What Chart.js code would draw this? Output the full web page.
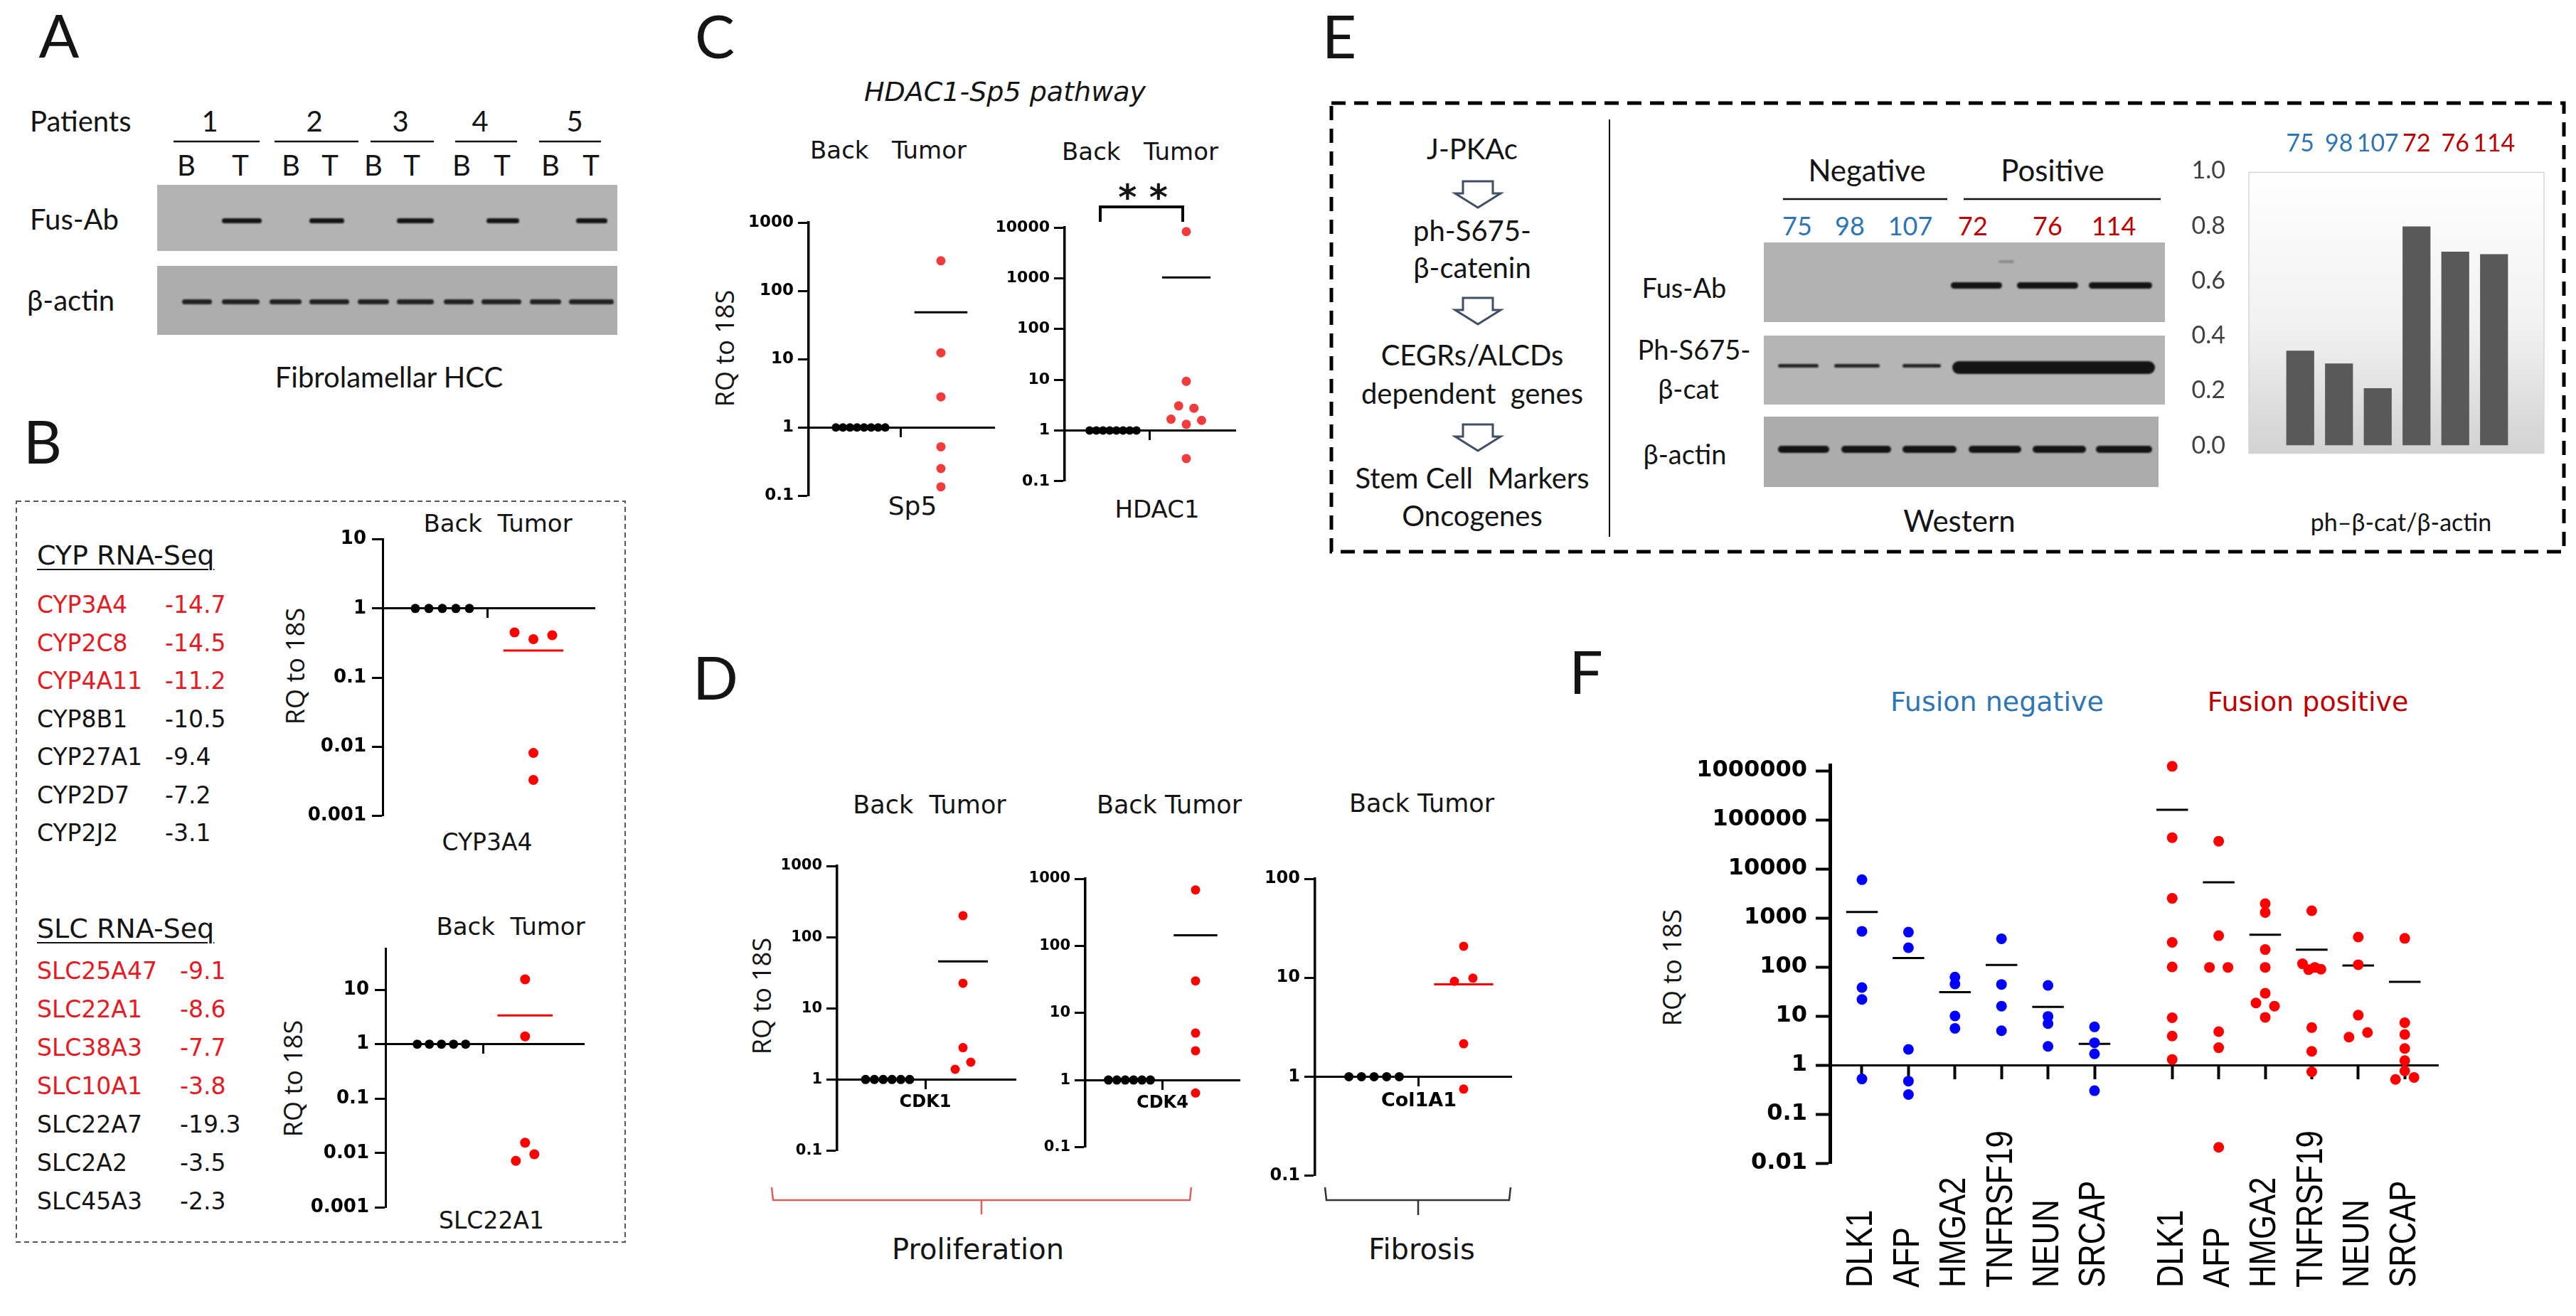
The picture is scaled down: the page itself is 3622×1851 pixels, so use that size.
<!DOCTYPE html>
<html><head><meta charset="utf-8">
<script src="https://cdn.jsdelivr.net/npm/chart.js"></script>
<style>
html,body{margin:0;padding:0;background:#fff;}
body{width:3622px;height:1851px;position:relative;overflow:hidden;}
.t{position:absolute;white-space:pre;line-height:1;}
canvas{position:absolute;}
.blot{position:absolute;}
.band{position:absolute;background:#141414;filter:blur(1.3px);}
</style></head><body>
<svg id="ov" width="3622" height="1851" style="position:absolute;left:0;top:0"></svg>
<script>
// ================= DATA =================
// Panel B: RNA-Seq fold changes
const cypGenes = ['CYP3A4','CYP2C8','CYP4A11','CYP8B1','CYP27A1','CYP2D7','CYP2J2'];
const cypFold  = [-14.7,-14.5,-11.2,-10.5,-9.4,-7.2,-3.1];
const cypRedCount = 3;
const slcGenes = ['SLC25A47','SLC22A1','SLC38A3','SLC10A1','SLC22A7','SLC2A2','SLC45A3'];
const slcFold  = [-9.1,-8.6,-7.7,-3.8,-19.3,-3.5,-2.3];
const slcRedCount = 4;

// Panel B dot plots (RQ to 18S)
const cyp3a4Back  = [1,1,1,1,1];
const cyp3a4Tumor = [0.45,0.36,0.41,0.0081,0.0033];
const slc22a1Back  = [1,1,1,1,1];
const slc22a1Tumor = [15.5,1.39,0.0072,0.0155,0.0095];
const ticksB = [0.001,0.01,0.1,1,10];

// Panel C
const sp5Back  = [1,1,1,1,1,1,1,1];
const sp5Tumor = [275,12.4,2.8,0.52,0.25,0.135];
const hdac1Back  = [1,1,1,1,1,1,1,1];
const hdac1Tumor = [8300,9.3,1.67,3.06,1.32,2.74,1.58,0.28];
const ticksSp5 = [0.1,1,10,100,1000];
const ticksHdac1 = [0.1,1,10,100,1000,10000];

// Panel D
const cdk1Back  = [1,1,1,1,1,1];
const cdk1Tumor = [200,22.5,2.8,1.39,1.75];
const cdk4Back  = [1,1,1,1,1,1];
const cdk4Tumor = [682,30,5.0,2.73,0.64];
const col1a1Back  = [1,1,1,1,1];
const col1a1Tumor = [20.8,9.2,9.9,2.15,0.75];
const ticksCdk = [0.1,1,10,100,1000];
const ticksCol = [0.1,1,10,100];

// Panel E: ph-beta-cat / beta-actin
const eLanes = ['75','98','107','72','76','114'];
const eLaneGroup = ['neg','neg','neg','pos','pos','pos'];
const eRatio = [0.345,0.299,0.209,0.798,0.706,0.697];
const ticksE = [0,0.2,0.4,0.6,0.8,1.0];

// Panel F
const fGenes = ['DLK1','AFP','HMGA2','TNFRSF19','NEUN','SRCAP'];
const fNegDLK1 = [6000,533,38,21.7,0.52];
const fNegAFP = [512,246,2.08,0.47,0.25];
const fNegHMGA2 = [62,45,10,5.6];
const fNegTNFRSF19 = [375,44,15.9,5.0];
const fNegNEUN = [42,9.8,7.0,2.4];
const fNegSRCAP = [6.0,2.85,1.69,0.30];
const fPosDLK1 = [1230000,43300,2500,316,100,9.2,3.9,1.3];
const fPosAFP = [36600,433,98,98,4.8,2.26,0.021];
const fPosHMGA2 = [1950,1290,226,98,29,18.4,15.9,9.4];
const fPosTNFRSF19 = [1397,116,88,98,90,5.8,1.9,0.73];
const fPosNEUN = [406,111,10.4,3.7,4.6];
const fPosSRCAP = [382,7.3,4.2,2.17,1.23,0.76,0.51,0.56];
const ticksF = [0.01,0.1,1,10,100,1000,10000,100000,1000000];

// ================= HELPERS =================
const DV = "'DejaVu Sans'";
const LATO = "Lato";
const OPEN = "'Open Sans'";
const TXT = '#141414';
const RED = '#ff0000';
const BLUE = '#0000ff';
const C_RED = '#f23c3c';
const LIST_RED = '#e8191f';
const NEG_TXT = '#2e75b6';
const POS_TXT = '#c00000';

function T(s, x, y, o = {}) {
  const d = document.createElement('div');
  d.className = 't';
  d.textContent = s;
  const st = d.style;
  st.left = x + 'px'; st.top = y + 'px';
  st.fontFamily = o.f || LATO;
  st.fontSize = (o.s || 40) + 'px';
  st.color = o.c || TXT;
  if (o.w) st.fontWeight = o.w;
  if (o.i) st.fontStyle = 'italic';
  if (o.u) { st.textDecoration = 'underline'; st.textDecorationThickness = '2px'; st.textUnderlineOffset = '6px'; }
  if (o.ls) st.letterSpacing = o.ls + 'px';
  const tx = o.a === 'l' ? '0' : '-50%';
  st.transform = `translate(${tx},-50%)` + (o.r ? ' rotate(-90deg)' : '');
  document.body.appendChild(d);
}
function blot(x1, y1, x2, y2, bg) {
  const d = document.createElement('div');
  d.className = 'blot';
  Object.assign(d.style, {left: x1 + 'px', top: y1 + 'px', width: (x2 - x1) + 'px', height: (y2 - y1) + 'px', background: bg});
  document.body.appendChild(d);
}
function band(x1, x2, yc, h, op = 1) {
  const d = document.createElement('div');
  d.className = 'band';
  Object.assign(d.style, {left: x1 + 'px', top: (yc - h / 2) + 'px', width: (x2 - x1) + 'px', height: h + 'px', borderRadius: (h / 2) + 'px', opacity: op});
  document.body.appendChild(d);
}
const mean = a => a.reduce((s, v) => s + v, 0) / a.length;
function logLabel(v) {
  const p = Math.round(Math.log10(v));
  return p >= 0 ? String(Math.pow(10, p)) : Math.pow(10, p).toFixed(-p);
}

// horizontal spreading of overlapping dots (computed from the chart's own scales)
function swarm(chart) {
  const xs = chart.scales.x, ys = chart.scales.y;
  const ppu = xs.getPixelForValue(1) - xs.getPixelForValue(0);
  chart.data.datasets.forEach(ds => {
    if (!ds.swarm) return;
    const {thresh, step, span} = ds.swarm;
    const py = i => ys.getPixelForValue(ds.data[i].y);
    const idx = ds.data.map((p, i) => i).sort((a, b) => py(a) - py(b));
    const clusters = [];
    let cur = [idx[0]];
    for (let k = 1; k < idx.length; k++) {
      if (py(idx[k]) - py(idx[k - 1]) < thresh) cur.push(idx[k]);
      else { clusters.push(cur); cur = [idx[k]]; }
    }
    clusters.push(cur);
    clusters.forEach(cl => {
      cl.sort((a, b) => a - b);
      const n = cl.length;
      const st = n > 1 ? Math.min(step, span / (n - 1)) : 0;
      cl.forEach((i, k) => { ds.data[i].x = ds.data[i].cx + (k - (n - 1) / 2) * st / ppu; });
    });
  });
  chart.update('none');
}

function dotPlot(o) {
  const padTop = 22, padBot = o.padBot || 16, padRight = 12;
  const left = o.axisX - o.wy, top = o.topPx - padTop;
  const w = Math.round(o.right - left + padRight), h = Math.round(o.botPx - o.topPx + padTop + padBot);
  const cv = document.createElement('canvas');
  cv.width = w; cv.height = h;
  Object.assign(cv.style, {left: left + 'px', top: top + 'px', width: w + 'px', height: h + 'px'});
  document.body.appendChild(cv);
  const datasets = o.groups.map(g => ({
    data: g.values.map(v => ({x: g.cx, y: v, cx: g.cx})),
    backgroundColor: g.color, borderColor: g.color, borderWidth: 0,
    pointRadius: g.r, pointHoverRadius: g.r, clip: false, swarm: g.swarm
  }));
  o.means.forEach(m => {
    const mv = mean(m.values);
    datasets.push({data: [{x: m.cx - m.half, y: mv}, {x: m.cx + m.half, y: mv}],
      showLine: true, borderColor: m.color, borderWidth: m.lw || 3, pointRadius: 0, clip: false, fill: false});
  });
  const chart = new Chart(cv, {
    type: 'scatter',
    data: {datasets},
    options: {
      responsive: false, animation: false, devicePixelRatio: 1, events: [],
      layout: {padding: {top: padTop, bottom: padBot, left: 0, right: padRight}},
      plugins: {legend: {display: false}, tooltip: {enabled: false}, title: {display: false}},
      scales: {
        x: {
          type: 'linear', position: {y: 1}, min: o.xMin, max: o.xMax,
          afterBuildTicks: s => { s.ticks = o.xTicks.map(v => ({value: v})); },
          ticks: {callback: (v, i) => (o.xLabels ? o.xLabels[i] : ''), autoSkip: false, maxRotation: 0,
                  font: {family: 'DejaVu Sans', weight: 'bold', size: o.xFont || 24}, color: '#000', padding: o.xPad || 6},
          grid: {drawOnChartArea: false, drawTicks: true, tickLength: o.xTickLen || 12, tickWidth: o.xTickW || 3, tickColor: '#000'},
          border: {display: true, color: '#000', width: o.xBorder || 3}
        },
        y: {
          type: 'logarithmic', position: 'left', min: o.yMin, max: o.yMax,
          afterBuildTicks: s => { s.ticks = o.yTicks.map(v => ({value: v})); },
          afterFit: s => { s.width = o.wy; },
          ticks: {callback: v => logLabel(v), autoSkip: false,
                  font: {family: 'DejaVu Sans', weight: 'bold', size: o.tickSize}, color: '#000', padding: o.yPad || 6},
          grid: {drawOnChartArea: false, drawTicks: true, tickLength: o.yTickLen || 15, tickWidth: o.yTickW || 3, tickColor: '#000'},
          border: {display: true, color: '#000', width: o.yBorder || 3}
        }
      }
    },
    plugins: o.plugins || []
  });
  swarm(chart);
  return chart;
}

function pairPlot(o) {
  return dotPlot(Object.assign({
    xTicks: [0.5],
    groups: [
      {values: o.back, cx: 0, color: '#000', r: o.rB, swarm: {thresh: 3, step: o.tieStep, span: Infinity}},
      {values: o.tumor, cx: 1, color: o.tumorColor, r: o.rT, swarm: {thresh: o.thresh, step: o.step, span: o.span}}
    ],
    means: [{values: o.tumor, cx: 1, half: 0.33, color: o.meanColor}]
  }, o));
}

// ================= PANEL LETTERS =================
T('A', 83, 49, {s: 84}); T('B', 60, 620, {s: 84}); T('C', 1005, 50, {s: 84});
T('D', 1006, 952, {s: 84}); T('E', 1883, 50, {s: 84}); T('F', 2230, 944, {s: 84});

let svg = '';

// ================= PANEL A =================
T('Patients', 42, 170, {s: 40, a: 'l'});
[[1,295],[2,442],[3,563],[4,675],[5,808]].forEach(([n, x]) => T(String(n), x, 170, {s: 40}));
[[244,365],[386,504],[521,610],[640,727],[758,845]].forEach(([a, b]) => { svg += `<line x1="${a}" y1="199" x2="${b}" y2="199" stroke="#111" stroke-width="2.5"/>`; });
[262,338,409,464,525,579,649,706,774,831].forEach((x, i) => T(i % 2 ? 'T' : 'B', x, 232, {s: 40}));
T('Fus-Ab', 42, 308, {s: 40, a: 'l'});
T('β-actin', 38, 422, {s: 40, a: 'l'});
blot(221, 260, 868, 353, '#b3b3b3');
blot(221, 374, 868, 471, '#adadad');
[[312,368],[435,484],[558,610],[684,730],[810,854]].forEach(([a, b]) => band(a, b, 310, 7));
[[256,298],[312,365],[379,424],[435,491],[503,547],[558,610],[624,666],[677,733],[745,789],[800,863]].forEach(([a, b]) => band(a, b, 424, 7, 0.9));
T('Fibrolamellar HCC', 547, 530, {s: 40});

// ================= PANEL B =================
svg += `<rect x="23" y="705" width="856" height="1042" fill="none" stroke="#555" stroke-width="2" stroke-dasharray="7 5"/>`;
T('CYP RNA-Seq', 52, 781, {f: DV, s: 38, a: 'l', u: 1});
cypGenes.forEach((g, i) => {
  const c = i < cypRedCount ? LIST_RED : TXT;
  const y = 850 + i * 53.5;
  T(g, 52, y, {f: DV, s: 33, c, a: 'l'});
  T(cypFold[i].toFixed(1), 232, y, {f: DV, s: 33, c, a: 'l'});
});
T('SLC RNA-Seq', 52, 1306, {f: DV, s: 38, a: 'l', u: 1});
slcGenes.forEach((g, i) => {
  const c = i < slcRedCount ? LIST_RED : TXT;
  const y = 1365 + i * 54;
  T(g, 52, y, {f: DV, s: 33, c, a: 'l'});
  T(slcFold[i].toFixed(1), 253, y, {f: DV, s: 33, c, a: 'l'});
});
T('RQ to 18S', 415, 937, {f: OPEN, s: 36, r: 1});
T('RQ to 18S', 412, 1517, {f: OPEN, s: 36, r: 1});
T('Back  Tumor', 700, 736, {f: DV, s: 34});
T('Back  Tumor', 718, 1303, {f: DV, s: 34});
T('CYP3A4', 685, 1184, {f: DV, s: 33});
T('SLC22A1', 691, 1716, {f: DV, s: 33});

pairPlot({axisX: 538, topPx: 757, botPx: 1155, yMin: 0.001, yMax: 10, right: 836, xMin: -0.656, xMax: 1.672,
  wy: 125, yTicks: ticksB, tickSize: 26, yPad: 8, back: cyp3a4Back, tumor: cyp3a4Tumor,
  tumorColor: RED, meanColor: RED, rB: 6.5, rT: 7, tieStep: 19, thresh: 12, step: 26.5, span: 53});
pairPlot({axisX: 542, topPx: 1333, botPx: 1706, yMin: 0.001, yMax: 56.4, right: 821, xMin: -0.669, xMax: 1.703,
  wy: 125, yTicks: ticksB, tickSize: 26, yPad: 8, back: slc22a1Back, tumor: slc22a1Tumor,
  tumorColor: RED, meanColor: RED, rB: 6.5, rT: 7, tieStep: 17, thresh: 18, step: 26, span: 26});

// ================= PANEL C =================
T('HDAC1-Sp5 pathway', 1413, 129, {f: DV, s: 38, i: 1});
T('Back   Tumor', 1249, 211, {f: DV, s: 34});
T('Back   Tumor', 1603, 213, {f: DV, s: 34});
T('RQ to 18S', 1019, 490, {f: OPEN, s: 36, r: 1});
T('Sp5', 1283, 712, {f: DV, s: 36});
T('HDAC1', 1627, 716, {f: DV, s: 34});
T('* *', 1607, 278, {f: DV, s: 50, w: 'bold'});
svg += `<path d="M1547,312 L1547,291 L1663,291 L1663,312" fill="none" stroke="#000" stroke-width="4"/>`;

pairPlot({axisX: 1137, topPx: 313, botPx: 701, yMin: 0.1, yMax: 1000, right: 1398, xMin: -0.646, xMax: 1.664,
  wy: 100, yTicks: ticksSp5, tickSize: 23, yBorder: 3.5, back: sp5Back, tumor: sp5Tumor,
  tumorColor: C_RED, meanColor: '#000', rB: 6, rT: 6.5, tieStep: 9.9, thresh: 12, step: 22, span: 44});
pairPlot({axisX: 1497, topPx: 320, botPx: 680, yMin: 0.1, yMax: 10000, right: 1737, xMin: -0.66, xMax: 1.67,
  wy: 100, yTicks: ticksHdac1, tickSize: 22, yBorder: 3.5, back: hdac1Back, tumor: hdac1Tumor,
  tumorColor: C_RED, meanColor: '#000', rB: 6, rT: 6.5, tieStep: 9.4, thresh: 17, step: 22, span: 43});

// ================= PANEL D =================
T('Back  Tumor', 1307, 1132, {f: DV, s: 35});
T('Back Tumor', 1644, 1132, {f: DV, s: 35});
T('Back Tumor', 1999, 1130, {f: DV, s: 35});
T('RQ to 18S', 1071, 1401, {f: OPEN, s: 36, r: 1});
svg += `<path d="M1085,1670 L1087,1688 L1673,1688 L1675,1670 M1380,1688 L1380,1708" fill="none" stroke="#e06060" stroke-width="2.5"/>`;
svg += `<path d="M1863,1670 L1865,1688 L2122,1688 L2124,1670 M1994,1688 L1994,1709" fill="none" stroke="#333" stroke-width="2.5"/>`;
T('Proliferation', 1375, 1757, {f: DV, s: 40});
T('Fibrosis', 1999, 1757, {f: DV, s: 40});

pairPlot({axisX: 1177, topPx: 1218, botPx: 1621, yMin: 0.1, yMax: 1000, right: 1428, xMin: -0.67, xMax: 1.698,
  wy: 95, yTicks: ticksCdk, tickSize: 21, yBorder: 3.5, xLabels: ['CDK1'], xFont: 24, back: cdk1Back, tumor: cdk1Tumor,
  tumorColor: RED, meanColor: '#000', rB: 6.5, rT: 6.5, tieStep: 12.4, thresh: 14, step: 22, span: 44});
pairPlot({axisX: 1526, topPx: 1236, botPx: 1616, yMin: 0.1, yMax: 1000, right: 1743, xMin: -0.667, xMax: 1.667,
  wy: 95, yTicks: ticksCdk, tickSize: 21, yBorder: 3.5, xLabels: ['CDK4'], xFont: 24, back: cdk4Back, tumor: cdk4Tumor,
  tumorColor: RED, meanColor: '#000', rB: 6.5, rT: 6.5, tieStep: 11.8, thresh: 14, step: 22, span: 44});
pairPlot({axisX: 1849, topPx: 1236, botPx: 1658, yMin: 0.1, yMax: 100, right: 2125, xMin: -0.659, xMax: 1.532,
  wy: 95, yTicks: ticksCol, tickSize: 24, yBorder: 3.5, xLabels: ['Col1A1'], xFont: 27, back: col1a1Back, tumor: col1a1Tumor,
  tumorColor: RED, meanColor: RED, rB: 6.5, rT: 6.5, tieStep: 17.7, thresh: 14, step: 26, span: 52});

// ================= PANEL E =================
svg += `<rect x="1872" y="145" width="1733" height="631" fill="none" stroke="#000" stroke-width="5" stroke-dasharray="20 12"/>`;
svg += `<line x1="2263" y1="168" x2="2263" y2="755" stroke="#000" stroke-width="2"/>`;
const flowX = 2070;
[['J-PKAc',209],['ph-S675-',324],['β-catenin',376],['CEGRs/ALCDs',499],['dependent  genes',553],['Stem Cell  Markers',672],['Oncogenes',725]]
  .forEach(([s, y]) => T(s, flowX, y, {s: 40}));
[255, 419, 597].forEach(y0 => {
  const cx = 2078;
  svg += `<polygon points="${cx-21},${y0} ${cx+21},${y0} ${cx+21},${y0+17} ${cx+32},${y0+17} ${cx},${y0+37} ${cx-32},${y0+17} ${cx-21},${y0+17}" fill="#fff" stroke="#3f4f65" stroke-width="3" stroke-linejoin="miter"/>`;
});
T('Fus-Ab', 2368, 404, {s: 38});
T('Ph-S675-', 2382, 491, {s: 38});
T('β-cat', 2374, 546, {s: 38});
T('β-actin', 2369, 638, {s: 38});
T('Negative', 2625, 239, {s: 42});
T('Positive', 2886, 239, {s: 42});
svg += `<line x1="2507" y1="280" x2="2738" y2="280" stroke="#111" stroke-width="2.5"/>`;
svg += `<line x1="2761" y1="280" x2="3038" y2="280" stroke="#111" stroke-width="2.5"/>`;
[2527, 2601, 2686, 2774, 2879, 2972].forEach((x, i) => T(eLanes[i], x, 317, {s: 36, c: eLaneGroup[i] === 'neg' ? NEG_TXT : POS_TXT}));
blot(2480, 341, 3044, 453, '#b2b2b2');
blot(2480, 472, 3044, 569, '#b5b5b5');
blot(2480, 586, 3035, 685, '#acacac');
[[2743,2815],[2836,2922],[2937,3026]].forEach(([a, b]) => band(a, b, 401, 9));
band(2810, 2832, 368, 4, 0.25);
[[2500,2557],[2579,2643],[2675,2729]].forEach(([a, b]) => band(a, b, 514, 5, 0.9));
band(2745, 3030, 517, 18);
[[2500,2572],[2589,2659],[2675,2751],[2768,2842],[2858,2933],[2947,3026]].forEach(([a, b]) => band(a, b, 632, 10));
T('Western', 2755, 732, {s: 42});
T('ph–β-cat/β-actin', 3376, 734, {s: 34});

(function () {
  const left = 3080, top = 150, w = 500, h = 567;
  const cv = document.createElement('canvas');
  cv.width = w; cv.height = h;
  Object.assign(cv.style, {left: left + 'px', top: top + 'px', width: w + 'px', height: h + 'px'});
  document.body.appendChild(cv);
  const bgPlugin = {
    id: 'plotbg',
    beforeDraw(chart) {
      const {ctx, chartArea: a} = chart;
      const x0 = a.left - 45, x1 = a.right + 43, y0 = a.top + 2, y1 = a.bottom + 11;
      const g = ctx.createLinearGradient(0, y0, 0, y1);
      g.addColorStop(0, '#ffffff'); g.addColorStop(0.55, '#f1f1f1'); g.addColorStop(1, '#d2d2d2');
      ctx.save();
      ctx.fillStyle = g; ctx.fillRect(x0, y0, x1 - x0, y1 - y0);
      ctx.strokeStyle = '#d6d6d6'; ctx.lineWidth = 1.5; ctx.strokeRect(x0, y0, x1 - x0, y1 - y0);
      ctx.restore();
    }
  };
  new Chart(cv, {
    type: 'bar',
    data: {labels: eLanes, datasets: [{data: eRatio, backgroundColor: '#595959', barPercentage: 0.72, categoryPercentage: 1}]},
    options: {
      responsive: false, animation: false, devicePixelRatio: 1, events: [],
      layout: {padding: {top: 0, bottom: 30, left: 0, right: 46}},
      plugins: {legend: {display: false}, tooltip: {enabled: false}},
      scales: {
        x: {position: 'top', afterFit: s => { s.height = 63; },
            grid: {display: false}, border: {display: false},
            ticks: {font: {family: 'Lato', size: 34}, padding: 10, autoSkip: false, maxRotation: 0, minRotation: 0,
                    color: c => (eLaneGroup[c.index] === 'neg' ? NEG_TXT : POS_TXT)}},
        y: {min: 0, max: 1, afterFit: s => { s.width = 127; },
            afterBuildTicks: s => { s.ticks = ticksE.map(v => ({value: v})); },
            grid: {display: false}, border: {display: false},
            ticks: {font: {family: 'Lato', size: 34}, color: '#404040', padding: 70, callback: v => v.toFixed(1)}}
      }
    },
    plugins: [bgPlugin]
  });
})();

// ================= PANEL F =================
T('Fusion negative', 2808, 987, {f: DV, s: 38, c: NEG_TXT});
T('Fusion positive', 3245, 987, {f: DV, s: 38, c: POS_TXT});
T('RQ to 18S', 2351, 1361, {f: OPEN, s: 36, r: 1});
(function () {
  const GROUP_GAP = 6.67;
  const neg = [fNegDLK1, fNegAFP, fNegHMGA2, fNegTNFRSF19, fNegNEUN, fNegSRCAP];
  const pos = [fPosDLK1, fPosAFP, fPosHMGA2, fPosTNFRSF19, fPosNEUN, fPosSRCAP];
  const centers = [], labels = [], groups = [], means = [];
  const sw = {thresh: 9, step: 26, span: 26};
  neg.forEach((vals, i) => {
    centers.push(i); labels.push(fGenes[i]);
    groups.push({values: vals, cx: i, color: BLUE, r: 7.5, swarm: sw});
    means.push({values: vals, cx: i, half: 0.34, color: '#000'});
  });
  pos.forEach((vals, i) => {
    const c = i + GROUP_GAP;
    centers.push(c); labels.push(fGenes[i]);
    groups.push({values: vals, cx: c, color: RED, r: 7.5, swarm: sw});
    means.push({values: vals, cx: c, half: 0.34, color: '#000'});
  });
  const topPx = 1067, padTop = 22, labelBottom = 1811;
  const labelPlugin = {
    id: 'flabels',
    afterDraw(chart) {
      const {ctx} = chart, xs = chart.scales.x;
      const yLocal = labelBottom - (topPx - padTop);
      ctx.save();
      ctx.fillStyle = '#000';
      ctx.font = '52px "Liberation Sans", Arial, sans-serif';
      ctx.textAlign = 'left'; ctx.textBaseline = 'middle';
      centers.forEach((c, i) => {
        ctx.save();
        ctx.translate(xs.getPixelForValue(c), yLocal);
        ctx.rotate(-Math.PI / 2);
        ctx.scale(0.84, 1);
        ctx.fillText(labels[i], 0, 0);
        ctx.restore();
      });
      ctx.restore();
    }
  };
  dotPlot({axisX: 2573, topPx, botPx: 1636, yMin: 0.01, yMax: 1300000, right: 3428, xMin: -0.688, xMax: 12.385,
    wy: 210, yTicks: ticksF, tickSize: 32, yPad: 12, yTickLen: 20, yTickW: 4, yBorder: 5,
    xTicks: centers, xTickLen: 18, xTickW: 4, xBorder: 3, padBot: 180,
    groups, means, plugins: [labelPlugin]});
})();

document.getElementById('ov').innerHTML = svg;
</script>
</body></html>
